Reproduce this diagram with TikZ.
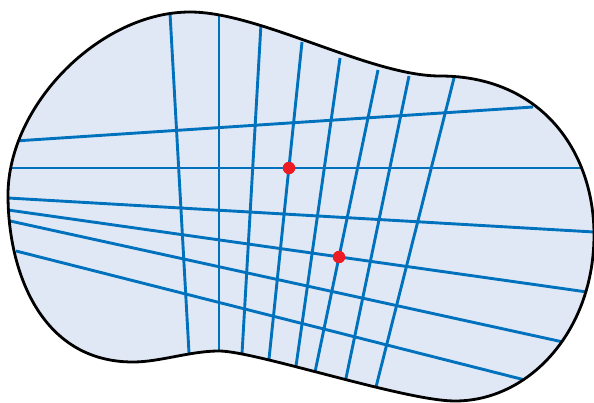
\documentclass[tikz,border=0pt]{standalone}
\definecolor{blobfill}{RGB}{224,232,245}
\definecolor{gridblue}{RGB}{0,114,189}
\definecolor{dotred}{RGB}{237,28,36}
\tikzset{
  gridline/.style={draw=gridblue, line width=2.9pt},
  outline/.style={draw=black, line width=2.8pt},
  reddot/.style={circle, fill=dotred, inner sep=0pt, minimum size=12.5pt},
}
\begin{document}
\begin{tikzpicture}[x=1pt,y=-1pt]
\useasboundingbox (0,0) rectangle (594,403);
\def\blobpath{(8,195) .. controls (8,105) and (100,12) .. (190,12)
 .. controls (260,12) and (370,76) .. (440,76)
 .. controls (540,76) and (594,150) .. (594,235)
 .. controls (594,330) and (530,401) .. (455,401)
 .. controls (405,401) and (255,351) .. (219,351)
 .. controls (190,351) and (160,362) .. (133,362)
 .. controls (40,362) and (8,270) .. (8,195) -- cycle}
\fill[blobfill] \blobpath;
% endpoints
\coordinate (h1a) at (15,141);  \coordinate (h1b) at (533,107);
\coordinate (h2a) at (10,168);  \coordinate (h2b) at (584,168);
\coordinate (h3a) at (8,198);   \coordinate (h3b) at (594,232);
\coordinate (h4a) at (8,210);   \coordinate (h4b) at (587,292);
\coordinate (h5a) at (10,221);  \coordinate (h5b) at (563,342);
\coordinate (h6a) at (16,251);  \coordinate (h6b) at (525,380);
\coordinate (v1a) at (170,13);  \coordinate (v1b) at (189,353);
\coordinate (v2a) at (219,14);  \coordinate (v2b) at (219,353);
\coordinate (v3a) at (261,24);  \coordinate (v3b) at (242,354);
\coordinate (v4a) at (302,42);  \coordinate (v4b) at (269,359);
\coordinate (v5a) at (340,58);  \coordinate (v5b) at (296,366);
\coordinate (v6a) at (378,70);  \coordinate (v6b) at (315,372);
\coordinate (v7a) at (409,76);  \coordinate (v7b) at (345,383);
\coordinate (v8a) at (454,78);  \coordinate (v8b) at (375,391);
\begin{scope}
\clip \blobpath;
\foreach \n in {h1,h2,h3,h4,h5,h6,v1,v2,v3,v4,v5,v6,v7,v8}
  \draw[gridline] (\n a) -- (\n b);
\end{scope}
\draw[outline] \blobpath;
\node[reddot] (p1) at (289,168) {};
\node[reddot] (p2) at (339,257) {};
\end{tikzpicture}
\end{document}
